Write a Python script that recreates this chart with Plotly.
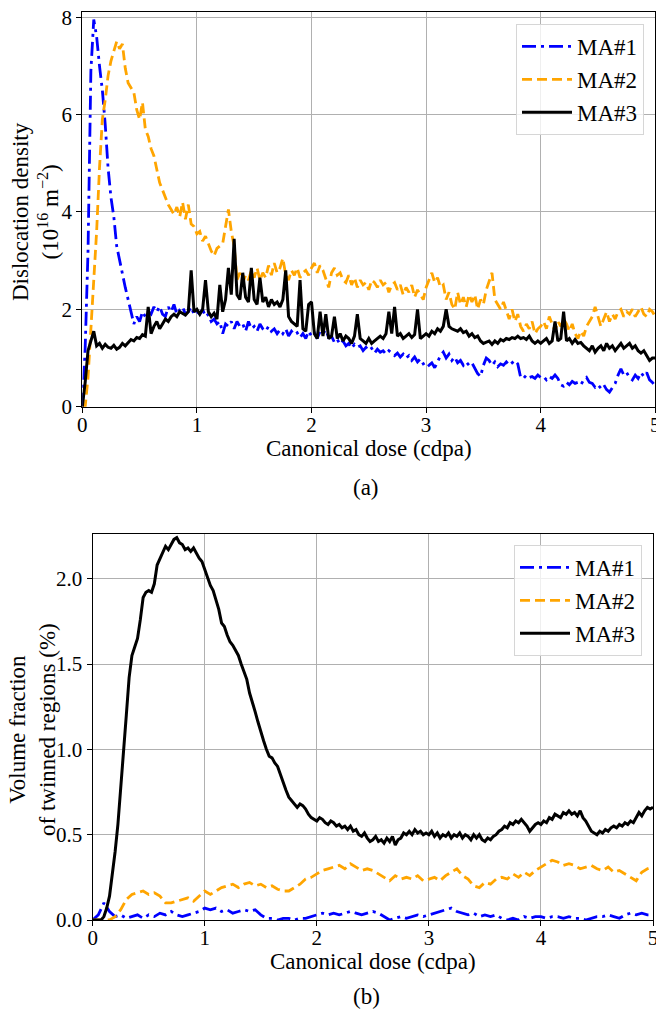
import numpy as np
import plotly.graph_objects as go

# ---------------------------------------------------------------
# Panel (a): dislocation density vs canonical dose, step 0.025 cdpa
# ---------------------------------------------------------------
dose_a = np.round(np.arange(201) * 0.025, 3)

rho_ma1 = [
    0, 1.2, 3.2, 6.9, 7.95, 7.6, 7.0, 6.5, 5.8, 4.9,
    4.3, 3.9, 3.3, 3.0, 2.7, 2.45, 2.2, 1.95, 1.7, 1.85,
    1.75, 1.95, 1.85, 1.95, 1.9, 2.05, 1.95, 2.06, 1.9, 1.85,
    2.05, 1.95, 2.1, 1.9, 1.99, 2.05, 1.9, 1.95, 2.05, 1.9,
    1.95, 1.9, 2.0, 1.85, 1.9, 1.75, 1.8, 1.7, 1.75, 1.5,
    1.7, 1.65, 1.75, 1.6, 1.75, 1.65, 1.7, 1.55, 1.75, 1.6,
    1.65, 1.55, 1.7, 1.6, 1.55, 1.65, 1.55, 1.6, 1.5, 1.58,
    1.5, 1.6, 1.45, 1.55, 1.48, 1.52, 1.42, 1.5, 1.4, 1.55,
    1.45, 1.52, 1.4, 1.55, 1.5, 1.58, 1.42, 1.45, 1.32, 1.38,
    1.28, 1.35, 1.25, 1.3, 1.2, 1.28, 1.22, 1.25, 1.15, 1.22,
    1.15, 1.2, 1.1, 1.18, 1.12, 1.15, 1.08, 1.15, 1.1, 1.05,
    1.1, 1.02, 1.08, 1.0, 1.05, 0.95, 1.02, 0.92, 0.98, 0.88,
    0.92, 0.85, 0.9, 0.8, 0.92, 1.05, 1.12, 1.0, 1.08, 0.95,
    1.02, 0.9, 0.95, 0.85, 0.92, 0.85, 0.9, 0.78, 0.68, 0.62,
    0.85, 1.0, 0.95, 0.85, 0.92, 0.82, 0.88, 0.85, 0.92, 0.85,
    0.9, 0.95, 0.88, 0.6, 0.58, 0.65, 0.6, 0.62, 0.58, 0.65,
    0.6, 0.62, 0.55, 0.62, 0.58, 0.65, 0.58, 0.45, 0.42, 0.5,
    0.45, 0.52, 0.48, 0.5, 0.45, 0.55, 0.6, 0.5, 0.48, 0.4,
    0.45, 0.38, 0.45, 0.35, 0.3, 0.4, 0.48, 0.65, 0.78, 0.65,
    0.7, 0.6, 0.55, 0.65, 0.58, 0.7, 0.62, 0.7, 0.55, 0.5,
    0.42,
]

rho_ma2 = [
    0, 0.0, 0.6, 1.6, 2.6, 3.6, 4.9, 5.9, 6.3, 6.8,
    7.1, 7.3, 7.5, 7.35, 7.45, 6.95, 6.65, 6.55, 6.45, 6.1,
    5.9, 6.25, 5.7, 5.55, 5.3, 5.15, 4.9, 4.6, 4.45, 4.3,
    4.15, 4.05, 3.95, 4.1, 3.9, 4.2, 3.85, 4.15, 3.75, 3.7,
    3.55, 3.6, 3.4, 3.5, 3.35, 3.2, 3.1, 3.25, 3.3, 3.35,
    3.7, 4.05, 3.6, 3.3, 2.6, 2.75, 2.55, 2.7, 2.6, 2.8,
    2.65, 2.85, 2.6, 2.75, 2.65, 2.9, 2.7, 2.95, 2.75, 2.85,
    3.05, 2.7, 2.6, 2.8, 2.7, 2.85, 2.65, 2.75, 2.8, 2.7,
    2.85, 2.95, 2.75, 2.9, 2.8, 2.6, 2.45, 2.75, 2.85, 2.7,
    2.75, 2.6, 2.55, 2.7, 2.5, 2.65, 2.45, 2.6, 2.5, 2.55,
    2.4, 2.6, 2.55, 2.45, 2.6, 2.5, 2.55, 2.35, 2.5, 2.55,
    2.4, 2.5, 2.3, 2.45, 2.35, 2.5, 2.25, 2.4, 2.3, 2.2,
    2.45, 2.6, 2.75, 2.55, 2.65, 2.45, 2.5, 2.2, 2.35, 2.1,
    2.0, 2.35, 2.1, 2.25, 2.05, 2.3, 2.15, 2.3, 2.0, 2.2,
    2.1, 2.4, 2.6, 2.75, 2.2, 2.1, 2.0, 2.15, 1.95, 1.8,
    2.0, 1.75, 1.9, 1.65, 1.55, 1.7, 1.6, 1.75, 1.5, 1.6,
    1.65, 1.75, 1.6, 1.85, 1.7, 1.55, 1.75, 1.65, 1.8, 1.7,
    1.55, 1.7, 1.5, 1.4, 1.55, 1.45, 1.65, 1.75, 1.85, 2.05,
    1.85, 1.65, 1.8, 1.95, 1.75, 1.9, 1.8, 1.95, 2.0, 1.85,
    1.95, 1.9, 2.0, 1.85, 1.95, 2.05, 1.9, 1.85, 2.0, 1.95,
    1.85,
]

rho_ma3 = [
    0, 0.5, 1.15, 1.35, 1.55, 1.25, 1.3, 1.2, 1.28, 1.22,
    1.2, 1.26, 1.18, 1.22, 1.3, 1.25, 1.32, 1.38, 1.35, 1.42,
    1.4, 1.48, 1.45, 2.05, 1.5, 1.65, 1.75, 1.6, 1.7, 1.8,
    1.75, 1.85, 1.9, 1.85, 1.95, 1.92, 1.88, 1.95, 2.8, 1.95,
    2.0, 1.9, 2.0, 2.6, 1.95, 1.85, 1.92, 1.8, 2.5, 1.95,
    2.2, 2.85, 2.3, 3.45, 2.3, 2.2, 2.75, 2.25, 2.15, 2.85,
    2.2, 2.1, 2.65, 2.15, 2.25, 2.05, 2.2, 2.1, 2.15, 2.05,
    2.2, 2.8, 1.85, 1.75, 1.7, 1.65, 2.6, 1.6, 1.55, 2.1,
    2.15, 1.5, 1.4, 1.95, 1.45, 1.9, 1.4, 1.45, 1.85, 1.4,
    1.5, 1.35, 1.45, 1.4, 1.3, 1.45, 1.9, 1.4, 1.35, 1.3,
    1.4, 1.3, 1.35, 1.4, 1.45, 1.4, 1.5, 1.95, 1.5, 2.05,
    1.45, 1.5, 1.4, 1.45, 1.5, 1.42, 1.48, 2.0, 1.4, 1.45,
    1.5, 1.45, 1.55, 1.5, 1.6, 1.55, 1.65, 2.0, 1.65, 1.6,
    1.58, 1.55, 1.6, 1.52, 1.55, 1.45, 1.5, 1.42, 1.45, 1.35,
    1.3, 1.32, 1.35, 1.28, 1.35, 1.3, 1.38, 1.35, 1.4, 1.38,
    1.42, 1.4, 1.45, 1.4, 1.42, 1.38, 1.45, 1.35, 1.3, 1.35,
    1.3, 1.35, 1.4, 1.3, 1.35, 1.75, 1.35, 1.4, 1.95, 1.35,
    1.4, 1.3, 1.38, 1.3, 1.32, 1.25, 1.2, 1.15, 1.25, 1.12,
    1.2, 1.25, 1.15, 1.3, 1.2, 1.25, 1.15, 1.22, 1.3, 1.2,
    1.25, 1.3, 1.2, 1.25, 1.15, 1.1, 1.15, 1.05, 0.95, 1.0,
    1.0,
]

# ---------------------------------------------------------------
# Panel (b): twinned volume fraction vs canonical dose
# MA#1 / MA#2 sampled every 0.05 cdpa, MA#3 every 0.025 cdpa
# ---------------------------------------------------------------
dose_b = np.round(np.arange(101) * 0.05, 3)
dose_b_fine = np.round(np.arange(201) * 0.025, 3)

twin_ma1 = [
    0, 0.03, 0.1, 0.05, 0.02, 0.03, 0.01, 0.02, 0.03, 0.01,
    0.03, 0.02, 0.04, 0.03, 0.05, 0.03, 0.02, 0.03, 0.04, 0.05,
    0.07, 0.06, 0.07, 0.05, 0.06, 0.04, 0.05, 0.06, 0.05, 0.06,
    0.03, 0.01, 0.01, 0.0, 0.01, 0.01, 0.0, 0.01, 0.01, 0.02,
    0.03, 0.04, 0.03, 0.04, 0.03, 0.04, 0.05, 0.04, 0.03, 0.04,
    0.05, 0.04, 0.02, 0.0, 0.01, 0.02, 0.01, 0.02, 0.03, 0.02,
    0.03, 0.04, 0.05, 0.06, 0.07, 0.05, 0.04, 0.03, 0.04, 0.02,
    0.03, 0.02, 0.03, 0.01, 0.0, 0.01, 0.0, 0.02, 0.01, 0.02,
    0.02, 0.01, 0.02, 0.02, 0.01, 0.02, 0.01, 0.01, 0.0, 0.01,
    0.02, 0.02, 0.03, 0.02, 0.01, 0.03, 0.04, 0.03, 0.04, 0.03,
    0.03,
]

twin_ma2 = [
    0, 0, 0, 0, 0.02, 0.06, 0.12, 0.15, 0.16, 0.17,
    0.15, 0.16, 0.14, 0.1, 0.1, 0.11, 0.12, 0.13, 0.11, 0.14,
    0.17, 0.15, 0.17, 0.19, 0.2, 0.21, 0.19, 0.21, 0.22, 0.2,
    0.21, 0.19, 0.2, 0.18, 0.17, 0.17, 0.19, 0.21, 0.24, 0.25,
    0.27, 0.29, 0.3, 0.31, 0.32, 0.3, 0.33, 0.31, 0.29, 0.3,
    0.29, 0.27, 0.25, 0.23, 0.26, 0.24, 0.25, 0.24, 0.26, 0.23,
    0.24, 0.25, 0.23, 0.26, 0.28, 0.3, 0.26, 0.24, 0.2, 0.19,
    0.22, 0.21, 0.24, 0.25, 0.24, 0.27, 0.25, 0.28, 0.26, 0.29,
    0.31, 0.33, 0.35, 0.34, 0.32, 0.33, 0.32, 0.3, 0.31, 0.32,
    0.3, 0.29, 0.31, 0.28, 0.29, 0.27, 0.25, 0.23, 0.28, 0.3,
    0.31,
]

twin_ma3 = [
    0, 0, 0, 0, 0.02, 0.07, 0.14, 0.26, 0.4, 0.56,
    0.76, 0.98, 1.2, 1.42, 1.55, 1.6, 1.65, 1.76, 1.89, 1.92,
    1.93, 1.92, 1.97, 2.08, 2.12, 2.15, 2.19, 2.17, 2.2, 2.23,
    2.24, 2.21, 2.2, 2.17, 2.18, 2.16, 2.18, 2.15, 2.12, 2.1,
    2.05, 2.0, 1.96, 1.93, 1.87, 1.82, 1.74, 1.72, 1.67, 1.63,
    1.61, 1.58, 1.55, 1.5, 1.45, 1.41, 1.33, 1.28, 1.22, 1.16,
    1.1, 1.05, 1.0, 0.96, 0.95, 0.92, 0.9, 0.85, 0.8, 0.76,
    0.72, 0.7, 0.68, 0.66, 0.68, 0.67, 0.65, 0.62, 0.6, 0.59,
    0.58, 0.6, 0.59, 0.57, 0.56, 0.58, 0.57, 0.55, 0.56, 0.54,
    0.55, 0.53, 0.55, 0.52, 0.53, 0.5, 0.49, 0.51, 0.48, 0.46,
    0.47, 0.49, 0.46, 0.47, 0.45, 0.48, 0.46, 0.49, 0.44, 0.47,
    0.48, 0.51, 0.5, 0.52, 0.5, 0.53, 0.51, 0.52, 0.5, 0.51,
    0.5, 0.52, 0.49, 0.51, 0.48, 0.5, 0.49, 0.51, 0.48, 0.5,
    0.49, 0.51, 0.48, 0.5, 0.49, 0.47, 0.5, 0.48, 0.5, 0.47,
    0.46, 0.48, 0.47, 0.49, 0.5, 0.52, 0.53, 0.55, 0.54, 0.57,
    0.56, 0.58, 0.57, 0.59, 0.57, 0.55, 0.52, 0.54, 0.56, 0.57,
    0.56, 0.58, 0.57, 0.6, 0.59, 0.62, 0.61, 0.6, 0.63, 0.62,
    0.64, 0.62, 0.63, 0.61, 0.64, 0.6, 0.58, 0.55, 0.52, 0.51,
    0.5, 0.52, 0.51, 0.53, 0.52, 0.54, 0.55, 0.54, 0.56, 0.55,
    0.57, 0.56, 0.58, 0.57, 0.6, 0.63, 0.61, 0.64, 0.66, 0.65,
    0.66,
]

series_names = ["MA#1", "MA#2", "MA#3"]
x_ticks = [0, 1, 2, 3, 4, 5]
y_ticks_a = [0, 2, 4, 6, 8]
y_ticks_b = [0.0, 0.5, 1.0, 1.5, 2.0]

W, H = 656, 1010
FONT = "Liberation Serif, Times New Roman, serif"
styles = [
    dict(color="#0000ff", dash="14px,5px,3px,5px", width=2.8),
    dict(color="#ffa500", dash="10px,5px", width=2.8),
    dict(color="#000000", dash="solid", width=3.0),
]

fig = go.Figure()

for name, ys, st in zip(series_names, [rho_ma1, rho_ma2, rho_ma3], styles):
    fig.add_trace(go.Scatter(x=dose_a, y=ys, mode="lines", name=name,
                             line=st, xaxis="x", yaxis="y", legend="legend"))

for name, xs, ys, st in zip(series_names, [dose_b, dose_b, dose_b_fine],
                            [twin_ma1, twin_ma2, twin_ma3], styles):
    fig.add_trace(go.Scatter(x=xs, y=ys, mode="lines", name=name,
                             line=st, xaxis="x2", yaxis="y2", legend="legend2"))


def px_x(p):
    return p / W


def px_y(p):
    return 1 - p / H


axis_common = dict(
    showline=True, mirror=True, linecolor="black", linewidth=1.3,
    ticks="outside", ticklen=5, tickwidth=1.2, tickcolor="black",
    showgrid=True, gridcolor="#b0b0b0", gridwidth=1, zeroline=False,
    tickfont=dict(family=FONT, size=21, color="black"),
    ticklabeloverflow="allow",
)
x_extra = dict(ticklabelstandoff=-6)

fig.update_layout(
    width=W, height=H,
    margin=dict(l=0, r=0, t=0, b=0, autoexpand=False),
    paper_bgcolor="white", plot_bgcolor="white",
    font=dict(family=FONT, color="black"),
    showlegend=True,
    xaxis=dict(domain=[px_x(82.3), px_x(655.3)], range=[0, 5], tickvals=x_ticks,
               anchor="y", **axis_common, **x_extra),
    yaxis=dict(domain=[px_y(406.7), px_y(12.3)], range=[0, 8.1], tickvals=y_ticks_a,
               anchor="x", **axis_common),
    xaxis2=dict(domain=[px_x(92.7), px_x(653)], range=[0, 5], tickvals=x_ticks,
                anchor="y2", **axis_common, **x_extra),
    yaxis2=dict(domain=[px_y(920), px_y(534.3)], range=[0, 2.26], tickvals=y_ticks_b,
                tickformat=".1f", anchor="x2", **axis_common),
    legend=dict(x=px_x(644), y=px_y(24), xanchor="right", yanchor="top",
                bgcolor="rgba(255,255,255,0.8)", bordercolor="#d6d6d6", borderwidth=1,
                font=dict(family=FONT, size=23), itemwidth=50, tracegroupgap=0),
    legend2=dict(x=px_x(642), y=px_y(545), xanchor="right", yanchor="top",
                 bgcolor="rgba(255,255,255,0.8)", bordercolor="#d6d6d6", borderwidth=1,
                 font=dict(family=FONT, size=23), itemwidth=50, tracegroupgap=0),
)

label_font = dict(family=FONT, size=23, color="black")
annotations = [
    dict(text="Canonical dose (cdpa)", x=px_x(369), y=px_y(449)),
    dict(text="(a)", x=px_x(366), y=px_y(487)),
    dict(text="Canonical dose (cdpa)", x=px_x(373), y=px_y(961)),
    dict(text="(b)", x=px_x(366), y=px_y(996)),
    dict(text="Dislocation density<br>(10<sup>16</sup> m<sup>−2</sup>)",
         x=px_x(36), y=px_y(212), textangle=-90),
    dict(text="Volume fraction<br>of twinned regions (%)",
         x=px_x(32), y=px_y(730), textangle=-90),
]
for a in annotations:
    fig.add_annotation(xref="paper", yref="paper", xanchor="center", yanchor="middle",
                       showarrow=False, font=label_font, **a)

fig.write_html("out.html")
